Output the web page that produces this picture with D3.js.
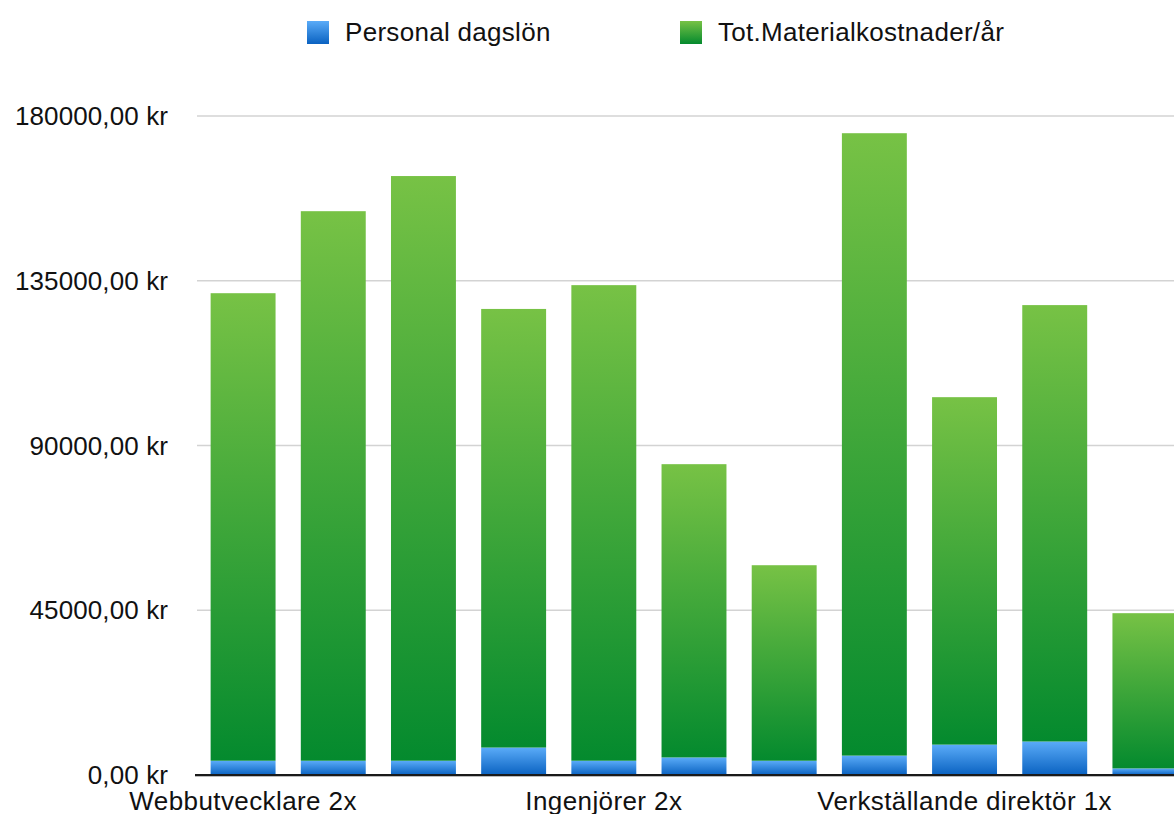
<!DOCTYPE html>
<html>
<head>
<meta charset="utf-8">
<script src="https://cdn.jsdelivr.net/npm/d3@7"></script>
<style>
  body { margin: 0; background: #fff; overflow: hidden; }
  text { font-family: "Liberation Sans", Arial, Helvetica, sans-serif; fill: #111; }
</style>
</head>
<body>
<svg id="chart" width="1174" height="814"></svg>
<script>
// bar labels (only every fourth bar carries a visible label)
const xLabels = ['Webbutvecklare 2x', '', '', '', 'Ingenjörer 2x', '', '', '',
  'Verkställande direktör 1x', '', ''];
const personal = [3900, 3900, 3900, 7500, 3900, 4800, 3900, 5300, 8300, 9150, 1800];
const material = [127700, 150100, 159700, 119800, 129900, 80100, 53400, 170000, 94900, 119200, 42400];
const yTicks = [0, 45000, 90000, 135000, 180000];
const seriesNames = ['Personal dagslön', 'Tot.Materialkostnader/år'];

(function () {
  let svg = d3.select('#chart');
  let x = d3.scaleBand().domain(d3.range(xLabels.length))
    .range([198, 1190]).paddingInner(0.28).paddingOuter(0.14);
  let y = d3.scaleLinear().domain([0, 180000]).range([775, 116]);

  let defs = svg.append('defs');
  function grad(id, top, bottom) {
    let g = defs.append('linearGradient').attr('id', id)
      .attr('x1', 0).attr('y1', 0).attr('x2', 0).attr('y2', 1);
    g.append('stop').attr('offset', '0%').attr('stop-color', top);
    g.append('stop').attr('offset', '100%').attr('stop-color', bottom);
  }
  grad('gBlue', '#5aabf8', '#0a62c1');
  grad('gGreen', '#77c245', '#048a2e');

  // gridlines
  svg.append('g').selectAll('line').data(yTicks.filter(d => d > 0)).enter().append('line')
    .attr('x1', 197).attr('x2', 1174)
    .attr('y1', d => y(d)).attr('y2', d => y(d))
    .attr('stroke', '#d3d3d3').attr('stroke-width', 1.5);

  // y labels
  svg.append('g').selectAll('text').data(yTicks).enter().append('text')
    .attr('x', 168).attr('y', d => y(d) + 9)
    .attr('text-anchor', 'end').attr('font-size', 26)
    .style('letter-spacing', '0.1px')
    .text(d => d.toFixed(2).replace('.', ',') + ' kr');

  // stacked bars
  let stack = d3.stack().keys([0, 1]).value((d, k) => d[k]);
  let rows = personal.map((p, i) => [p, material[i]]);
  let layers = stack(rows);
  let fills = ['url(#gBlue)', 'url(#gGreen)'];
  svg.append('g').selectAll('g').data(layers).enter().append('g')
    .attr('fill', (d, i) => fills[i])
    .selectAll('rect').data(d => d).enter().append('rect')
    .attr('x', (d, i) => x(i))
    .attr('width', x.bandwidth())
    .attr('y', d => y(d[1]))
    .attr('height', d => y(d[0]) - y(d[1]));

  // baseline
  svg.append('line').attr('x1', 195).attr('x2', 1174).attr('y1', 776.5).attr('y2', 776.5)
    .attr('stroke', '#bbb').attr('stroke-width', 1);
  svg.append('line').attr('x1', 195).attr('x2', 1174).attr('y1', 775).attr('y2', 775)
    .attr('stroke', '#1a1a1a').attr('stroke-width', 2);

  // x labels
  let xAxis = d3.axisBottom(x).tickSize(0).tickFormat(i => xLabels[i]);
  let gx = svg.append('g').attr('transform', 'translate(0,776)').call(xAxis);
  gx.select('.domain').remove();
  gx.selectAll('text').attr('font-size', 26).attr('dy', null).attr('y', 34)
    .style('letter-spacing', '0.4px')
    .style('font-family', '"Liberation Sans", Arial, sans-serif').attr('fill', '#111');

  // legend
  let legendX = [307, 680];
  let lg = svg.append('g').selectAll('g').data(seriesNames).enter().append('g')
    .attr('transform', (d, i) => 'translate(' + legendX[i] + ',21)');
  lg.append('rect').attr('width', 22).attr('height', 23).attr('fill', (d, i) => fills[i]);
  lg.append('text').attr('x', 38).attr('y', 20).attr('font-size', 26)
    .style('letter-spacing', '0.3px').text(d => d);
})();
</script>
</body>
</html>
